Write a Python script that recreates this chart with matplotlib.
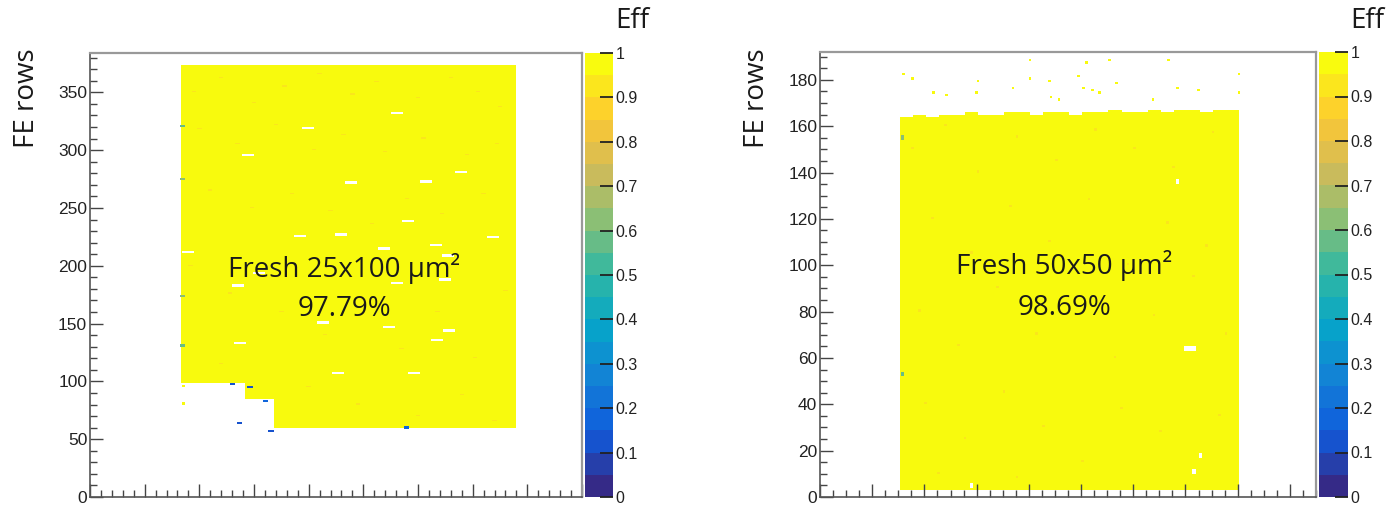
import numpy as np
import matplotlib
matplotlib.use("Agg")
import matplotlib.pyplot as plt
from matplotlib.colors import LinearSegmentedColormap, ListedColormap, Normalize
from matplotlib.ticker import MultipleLocator, FixedFormatter

# ---------------------------------------------------------------- data
# Left module: fresh 25x100 um^2 sensor
left_ncols, left_nrows = 450, 384
left_label = "Fresh 25x100 µm²"
left_eff_text = "97.79%"
# fully efficient pixel blocks: (col0, col1, row0, row1)
left_blocks = [(83, 142, 99, 374), (142, 168, 85, 374), (168, 390, 60, 374)]
# isolated hits outside the blocks: (col, row, eff)
left_extra = [(84, 95, 1.0), (84, 80, 1.0)]
# pixels with no entries (centre col, centre row)
left_holes = [(280, 332), (199, 319), (144, 296), (238, 272), (307, 273),
              (339, 281), (290, 239), (192, 226), (229, 227), (89, 212),
              (368, 225), (316, 218), (268, 215), (154, 194), (327, 209),
              (324, 188), (280, 185), (135, 183), (213, 151), (273, 147),
              (328, 144), (137, 133), (317, 136), (226, 107), (296, 107)]
# low-efficiency pixels: (col, row, eff)
left_low = [(130, 97, 0.12), (146, 94, 0.10), (160, 82, 0.15), (136, 63, 0.12),
            (165, 56, 0.10), (289, 59, 0.15), (84, 274, 0.60), (84, 320, 0.55),
            (84, 173, 0.60), (84, 130, 0.55)]
# slightly inefficient pixels: (col, row)
left_speckles = [(95, 350), (120, 362), (150, 341), (178, 355), (210, 366), (240, 348),
                 (262, 359), (300, 345), (330, 362), (355, 350), (375, 337), (100, 318),
                 (135, 305), (170, 322), (205, 300), (232, 313), (270, 298), (305, 310),
                 (345, 296), (372, 305), (110, 265), (148, 250), (185, 262), (220, 247),
                 (258, 236), (290, 258), (322, 245), (360, 262), (92, 200), (128, 176),
                 (175, 160), (215, 140), (250, 170), (285, 128), (318, 160), (352, 120),
                 (380, 178), (120, 115), (200, 95), (245, 80), (300, 70), (340, 88),
                 (370, 66)]
left_speckle_eff = 0.90

# Right module: fresh 50x50 um^2 sensor
right_ncols, right_nrows = 380, 192
right_label = "Fresh 50x50 µm²"
right_eff_text = "98.69%"
right_first_col, right_bottom_row = 61, 3
# top row of the efficient area for each group of 10 columns
right_top_rows = [164, 165, 164, 165, 165, 166, 165, 165, 166, 166, 165, 166, 166,
                  165, 166, 166, 167, 166, 166, 167, 166, 167, 167, 166, 167, 167]
# isolated hits above the sensor edge: (col, row)
right_extra = [(63, 182), (70, 180), (86, 174), (96, 173), (119, 174), (120, 179),
               (160, 188), (160, 180), (175, 179), (176, 172), (182, 171), (197, 181),
               (201, 176), (208, 175), (213, 174), (203, 187), (221, 188), (226, 178),
               (266, 188), (273, 176), (289, 175), (320, 182), (320, 174), (254, 171),
               (147, 176)]
# pixels with no entries: (col0, col1, row0, row1)
right_holes = [(279, 288, 63, 65), (273, 275, 135, 137), (290, 293, 17, 19),
               (285, 288, 10, 12), (115, 117, 4, 6)]
right_low = [(62, 52, 0.55), (62, 154, 0.60)]
right_speckles = [(70, 150), (95, 160), (120, 140), (150, 155), (180, 145), (210, 158),
                  (240, 150), (270, 142), (300, 157), (85, 120), (115, 105), (145, 125),
                  (175, 110), (205, 128), (235, 100), (265, 118), (295, 108), (75, 80),
                  (105, 65), (135, 90), (165, 70), (195, 85), (225, 60), (255, 78),
                  (285, 95), (310, 70), (80, 40), (110, 25), (140, 45), (170, 30),
                  (200, 15), (230, 38), (260, 28), (305, 35), (90, 10), (150, 8)]
right_speckle_eff = 0.92

cbar_ticks = [0, 0.1, 0.2, 0.3, 0.4, 0.5, 0.6, 0.7, 0.8, 0.9, 1]
cbar_labels = ["0", "0.1", "0.2", "0.3", "0.4", "0.5", "0.6", "0.7", "0.8", "0.9", "1"]

# ---------------------------------------------------------------- palette
# ROOT "kBird" palette, drawn with 20 contour levels
stops = np.linspace(0, 1, 9)
bird_r = [0.2082, 0.0592, 0.0780, 0.0232, 0.1802, 0.5301, 0.8186, 0.9956, 0.9764]
bird_g = [0.1664, 0.3599, 0.5041, 0.6419, 0.7178, 0.7492, 0.7328, 0.7862, 0.9832]
bird_b = [0.5293, 0.8684, 0.8385, 0.7914, 0.6425, 0.4662, 0.3499, 0.1968, 0.0539]
bird = LinearSegmentedColormap.from_list(
    "bird", list(zip(stops, zip(bird_r, bird_g, bird_b))))
cmap = ListedColormap([bird(i / 19) for i in range(20)])
norm = Normalize(vmin=0, vmax=1)


def left_map():
    grid = np.full((left_nrows, left_ncols), np.nan)
    for c0, c1, r0, r1 in left_blocks:
        grid[r0:r1, c0:c1] = 1.0
    for c, r, v in left_extra:
        grid[r:r + 2, c:c + 3] = v
    for c, r in left_speckles:
        grid[r, c - 2:c + 2] = left_speckle_eff
    for c, r in left_holes:
        grid[r - 1:r + 1, c - 5:c + 6] = np.nan
    for c, r, v in left_low:
        grid[r:r + 2, c - 2:c + 3] = v
    return grid


def right_map():
    grid = np.full((right_nrows, right_ncols), np.nan)
    for i, top in enumerate(right_top_rows):
        c0 = right_first_col + 10 * i
        grid[right_bottom_row:top, c0:c0 + 10] = 1.0
    for c, r in right_extra:
        grid[r, c:c + 2] = 1.0
    for c, r in right_speckles:
        grid[r, c:c + 2] = right_speckle_eff
    for c0, c1, r0, r1 in right_holes:
        grid[r0:r1, c0:c1] = np.nan
    for c, r, v in right_low:
        grid[r:r + 2, c:c + 2] = v
    return grid


# ---------------------------------------------------------------- figure
W, H = 1386, 505
fig = plt.figure(figsize=(W / 100, H / 100), dpi=100)
fig.patch.set_facecolor("white")

tick_font = "Liberation Sans"
text_font = "Open Sans"


def px_box(x0, y0, x1, y1):
    return [x0 / W, 1 - y1 / H, (x1 - x0) / W, (y1 - y0) / H]


def draw_panel(frame, cbox, grid, ncols, nrows, xmaj, xmin, ymaj, ymin,
               label, eff_text, label_xy, eff_xy, ylab_x, eff_title_x):
    ax = fig.add_axes(px_box(*frame))
    im = ax.imshow(grid, origin="lower", extent=[0, ncols, 0, nrows],
                   cmap=cmap, norm=norm, interpolation="nearest", aspect="auto")
    ax.set_xlim(0, ncols)
    ax.set_ylim(0, nrows)
    ax.xaxis.set_major_locator(MultipleLocator(xmaj))
    ax.xaxis.set_minor_locator(MultipleLocator(xmin))
    ax.yaxis.set_major_locator(MultipleLocator(ymaj))
    ax.yaxis.set_minor_locator(MultipleLocator(ymin))
    ax.tick_params(which="both", direction="in", color="#444444", width=1.0,
                   top=False, right=False, labelbottom=False)
    ax.tick_params(which="major", length=9.5, pad=2)
    ax.tick_params(which="minor", length=5)
    ax.tick_params(axis="y", labelsize=12.5, labelcolor="#222222")
    for t in ax.get_yticklabels():
        t.set_fontfamily(tick_font)
    for side in ("left", "bottom"):
        ax.spines[side].set_color("#555555")
        ax.spines[side].set_linewidth(1.2)
    for side in ("top", "right"):
        ax.spines[side].set_color("#999999")
        ax.spines[side].set_linewidth(1.6)

    ax.text(label_xy[0], label_xy[1], label, ha="center", va="baseline",
            fontsize=20, family=text_font, color="#1a1a1a")
    ax.text(eff_xy[0], eff_xy[1], eff_text, ha="center", va="baseline",
            fontsize=20, family=text_font, color="#1a1a1a")

    cax = fig.add_axes(px_box(*cbox))
    cb = fig.colorbar(im, cax=cax, ticks=cbar_ticks)
    cb.outline.set_visible(False)
    cb.ax.yaxis.set_major_formatter(FixedFormatter(cbar_labels))
    cax.tick_params(direction="in", length=9.5, width=1.3, color="#222222",
                    pad=2, labelsize=11.5, labelcolor="#222222")
    for t in cax.get_yticklabels():
        t.set_fontfamily(tick_font)

    fig.text(eff_title_x / W, 1 - 28 / H, "Eff", ha="left", va="baseline",
             fontsize=20, family=text_font, color="#1a1a1a")
    fig.text(ylab_x / W, 1 - 98 / H, "FE rows", rotation=90, ha="center",
             va="center", fontsize=20, family=text_font, color="#1a1a1a")
    return ax


draw_panel((90, 53, 582, 497), (585, 53, 613, 497), left_map(),
           left_ncols, left_nrows, 50, 10, 50, 10,
           left_label, left_eff_text, (232.8, 190.1), (232.8, 156.4), 27, 615)

draw_panel((820, 52, 1316, 497), (1319, 52, 1348, 497), right_map(),
           right_ncols, right_nrows, 40, 10, 20, 5,
           right_label, right_eff_text, (187, 96.4), (187, 78.4), 757, 1350)

fig.savefig("out.png", dpi=100)
